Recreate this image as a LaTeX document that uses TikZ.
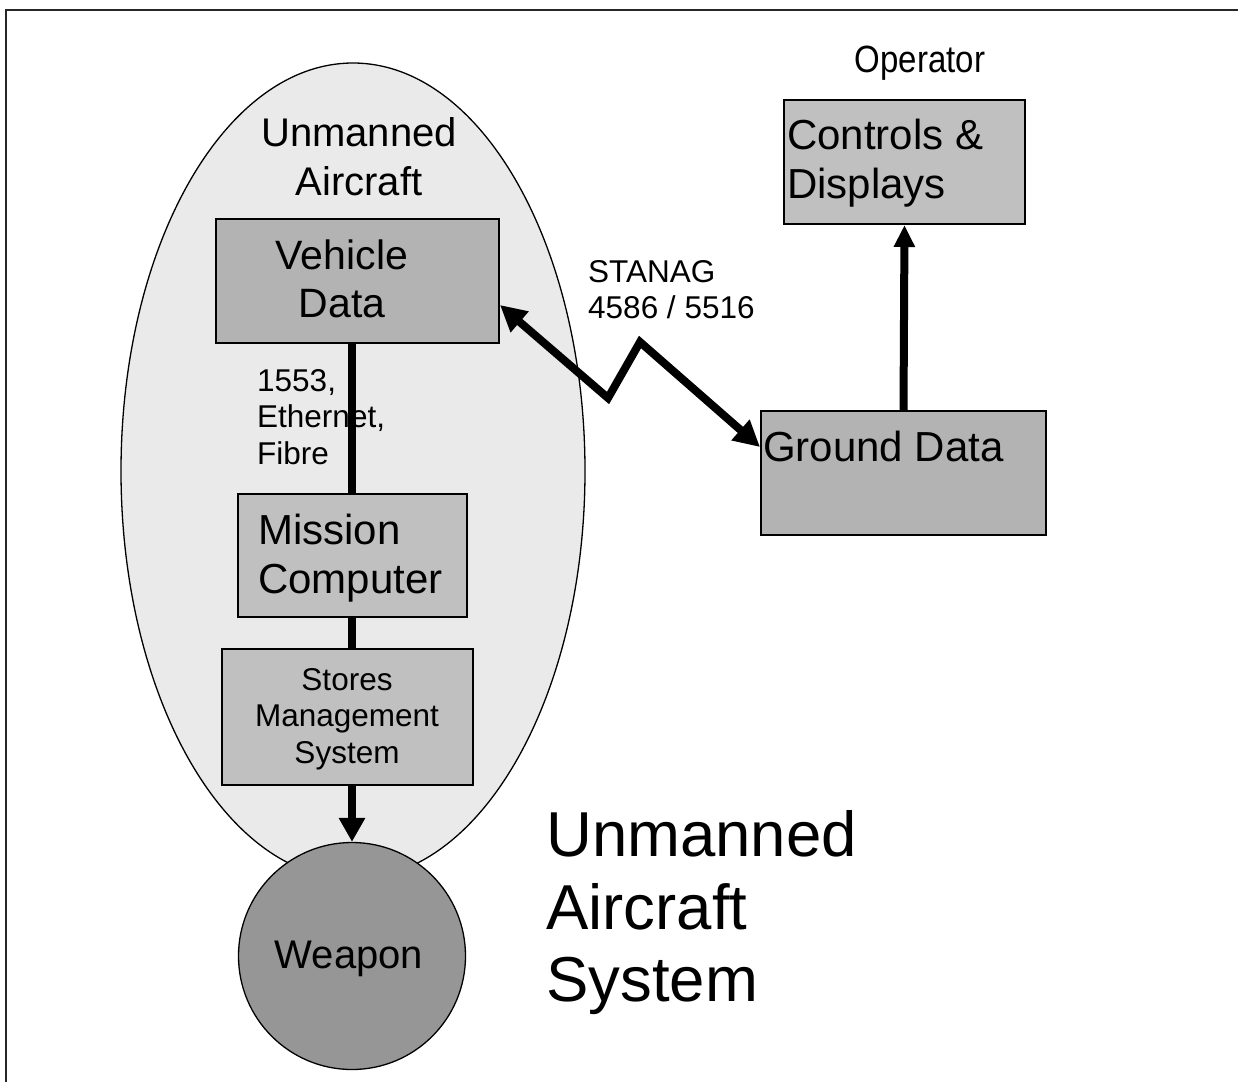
\documentclass[tikz,border=0pt]{standalone}
\usepackage{fontspec}
\usepackage{graphicx}
\setmainfont{Liberation Sans}
\usetikzlibrary{arrows.meta,calc,shapes.geometric}

\definecolor{shellgray}{HTML}{EAEAEA}
\definecolor{boxdark}{HTML}{B3B3B3}
\definecolor{boxlight}{HTML}{C0C0C0}
\definecolor{weapongray}{HTML}{969696}

\newcommand{\bigtxt}{\fontsize{40}{49}\selectfont}
\newcommand{\boxtxt}{\fontsize{42}{49.5}\selectfont}
\newcommand{\midtxt}{\fontsize{33}{40}\selectfont}
\newcommand{\smalltxt}{\fontsize{31.5}{36.5}\selectfont}
\newcommand{\hugetxt}{\fontsize{63.5}{72.5}\selectfont}

\begin{document}
\begin{tikzpicture}[x=1pt,y=-1pt,
  darkbox/.style={draw=black, line width=2pt, fill=boxdark, inner sep=0pt},
  lightbox/.style={draw=black, line width=2pt, fill=boxlight, inner sep=0pt},
  txt/.style={inner sep=0pt, text=black},
  link/.style={line width=8pt, draw=black},
  headtip/.style={line width=8pt, draw=black, -{Triangle[length=24pt,width=25pt]}},
  bothtips/.style={line width=8pt, draw=black, {Triangle[length=26pt,width=26pt]}-{Triangle[length=26pt,width=26pt]}}
]
% page extent
\useasboundingbox (0,0) rectangle (1238,1082);
\fill[white] (0,0) rectangle (1238,1082);

% frame: top and left rules
\draw[line width=2pt, black!85] (6,1082) -- (6,10) -- (1238,10);

% aircraft envelope
\node[draw=black, line width=1.3pt, fill=shellgray, ellipse, inner sep=0pt,
      minimum width=464pt, minimum height=816pt] (shell) at (353,471) {};
\node[txt, font=\bigtxt, align=center] (uatitle) at (359,157) {Unmanned\\Aircraft};

% on-board boxes
\node[darkbox, minimum width=283pt, minimum height=124pt] (vd) at (357.5,281) {};
\node[txt, font=\fontsize{41}{48}\selectfont, align=center] (vdtxt) at (342,279) {Vehicle\\Data};

\node[lightbox, minimum width=229pt, minimum height=123pt] (mc) at (352.5,555.5) {};
\node[txt, font=\boxtxt, align=left, anchor=west] (mctxt) at (258,558) {Mission\\Computer};

\node[lightbox, minimum width=251pt, minimum height=136pt] (sms) at (347.5,717) {};
\node[txt, font=\smalltxt, align=center] (smstxt) at (347,719) {Stores\\Management\\System};

% weapon
\node[draw=black, line width=1.3pt, fill=weapongray, circle, inner sep=0pt,
      minimum size=227pt] (wp) at (352,956) {};
\node[txt, font=\bigtxt] (wptxt) at (349,959) {Weapon};

% ground segment
\node[darkbox, minimum width=285pt, minimum height=124pt] (gd) at (903.5,473) {};
\node[txt, font=\boxtxt, anchor=west] (gdtxt) at (763,446) {Ground Data};

\node[lightbox, minimum width=241pt, minimum height=124pt] (cd) at (904.5,162) {};
\node[txt, font=\boxtxt, align=left, anchor=west] (cdtxt) at (787,163) {Controls \&\\Displays};

\node[txt, font=\midtxt] (op) at (920,63) {\scalebox{1}[1.15]{Operator}};

% data bus label
\node[txt, font=\smalltxt, align=left, anchor=west] (bus) at (257,417) {1553,\\Ethernet,\\Fibre};

% on-board links
\draw[link] (vd.south -| wp.center) -- (mc.north -| wp.center);
\draw[link] (mc.south -| wp.center) -- (sms.north -| wp.center);
\draw[headtip] (sms.south -| wp.center) -- (wp.north);

% operator link
\draw[line width=8pt, draw=black, -{Triangle[length=22pt,width=20pt]}] (gd.north) -- (cd.south);

% radio link
\coordinate (zlow) at (608,398);
\coordinate (zhigh) at (640,342);
\draw[bothtips, line join=miter] ([yshift=-24pt]vd.east) -- (zlow) -- (zhigh) -- ([yshift=26pt]gd.west);
\node[txt, font=\smalltxt, align=left, anchor=west] (stanag) at (588,289.5) {STANAG\\4586 / 5516};

% system caption
\node[txt, font=\hugetxt, align=left, anchor=west] (uas) at (546,913) {Unmanned\\Aircraft\\System};
\end{tikzpicture}
\end{document}
